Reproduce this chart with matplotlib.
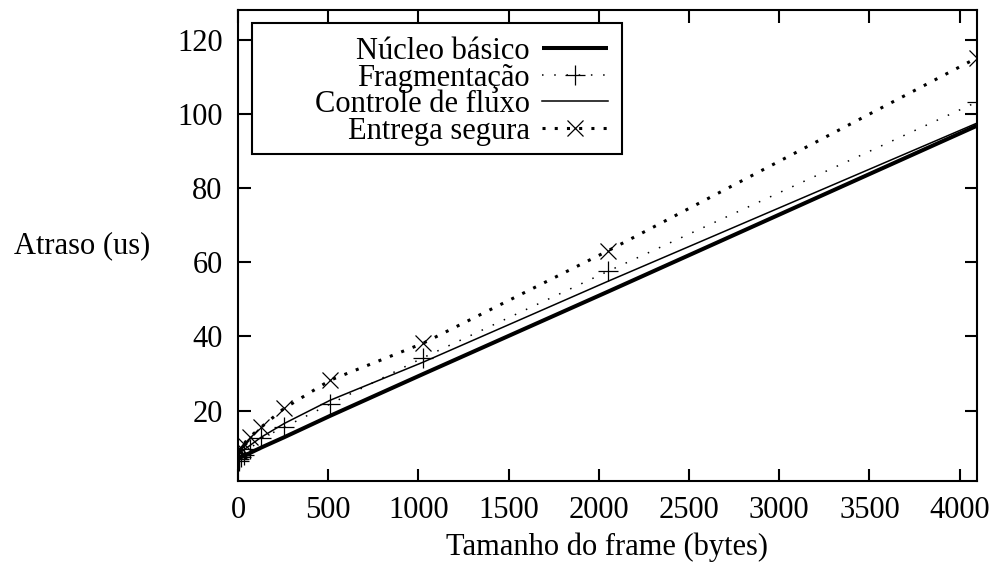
import matplotlib
matplotlib.use("Agg")
import matplotlib.pyplot as plt
from matplotlib.patches import Rectangle

frame_sizes = [1, 2, 4, 8, 16, 32, 64, 128, 256, 512, 1024, 2048, 4096]
nucleo = [7.0, 7.0, 7.1, 7.2, 7.4, 7.8, 8.5, 10.0, 12.8, 18.6, 29.8, 52.0, 96.8]
fragmentacao = [7.5, 7.0, 6.5, 7.0, 7.5, 8.0, 9.5, 12.5, 15.5, 21.8, 34.2, 57.5, 103.2]
controle = [8.0, 8.0, 8.2, 8.4, 8.8, 9.4, 10.5, 12.8, 16.5, 22.8, 33.0, 54.8, 97.5]
entrega = [9.5, 9.0, 9.0, 9.5, 10.0, 11.0, 12.8, 15.5, 20.6, 28.2, 38.1, 63.0, 115.1]

labels = ["Núcleo básico", "Fragmentação", "Controle de fluxo", "Entrega segura"]
xticks = [0, 500, 1000, 1500, 2000, 2500, 3000, 3500, 4000]
yticks = [20, 40, 60, 80, 100, 120]

plt.rcParams['font.family'] = ['Liberation Serif', 'DejaVu Serif']
plt.rcParams['font.size'] = 22

fig = plt.figure(figsize=(9.94, 5.62), dpi=100)
ax = fig.add_axes([238/994, 1-481/562, (977-238)/994, (481-10)/562])

ax.plot(frame_sizes, nucleo, color='black', lw=2.9, solid_capstyle='butt', label=labels[0])
ax.plot(frame_sizes, fragmentacao, color='black', lw=1.1, linestyle=(0, (1, 7)),
        marker='+', markersize=15, markeredgewidth=0.9, label=labels[1])
ax.plot(frame_sizes, controle, color='black', lw=1.1, label=labels[2])
ax.plot(frame_sizes, entrega, color='black', lw=2.2, linestyle=(0, (1, 3)),
        marker='x', markersize=12, markeredgewidth=0.9, label=labels[3])

ax.set_xlim(0, 4096)
ax.set_ylim(1, 128)
ax.set_xticks(xticks)
ax.set_yticks(yticks)
ax.tick_params(direction='in', length=9, width=1.5, top=True, right=True)
ax.tick_params(axis='x', pad=10.5)
ax.tick_params(axis='y', pad=11)
for s in ax.spines.values():
    s.set_linewidth(1.5)

ax.set_xlabel("Tamanho do frame (bytes)", labelpad=5.5)
ax.set_ylabel("Atraso (us)", rotation=0, ha='right', va='center')
ax.yaxis.set_label_coords((150-238)/739, 0.5)

# legend frame (gnuplot-style key box)
x0, x1 = (252-238)/739, (622-238)/739
y1, y0 = 1-(23-10)/471, 1-(154-10)/471
ax.add_patch(Rectangle((x0, y0), x1-x0, y1-y0, transform=ax.transAxes,
                       facecolor='white', edgecolor='black', lw=1.5, zorder=4.5))

leg = ax.legend(loc='upper right', bbox_to_anchor=(x1, y1),
                borderaxespad=0, markerfirst=False, frameon=False,
                handlelength=2.15, handletextpad=0.4,
                labelspacing=-0.08, borderpad=0.46)
leg.set_zorder(5)

fig.savefig("out.png", dpi=100)
